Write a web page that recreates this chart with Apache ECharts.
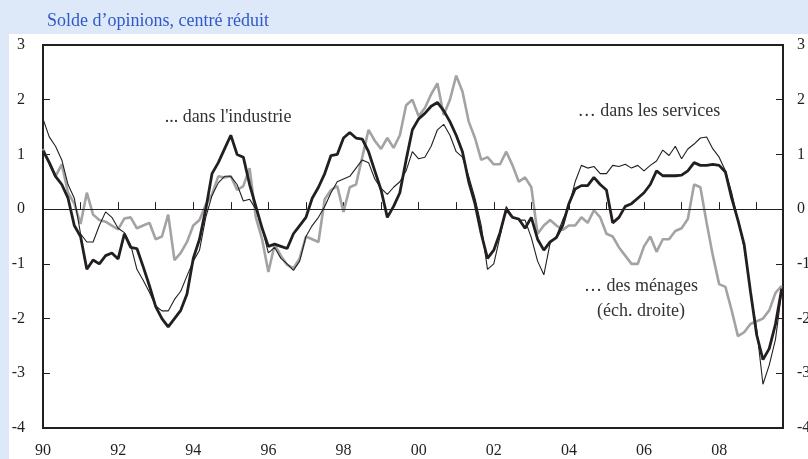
<!DOCTYPE html>
<html>
<head>
<meta charset="utf-8">
<script src="https://cdn.jsdelivr.net/npm/echarts@6/dist/echarts.min.js"></script>
<style>
  html, body { margin: 0; padding: 0; background: #dde9f8; }
  #chart { width: 808px; height: 459px; }
</style>
</head>
<body>
<div id="chart"></div>
<script>
// readings every two months, from Jan 1990 (solde d'opinions, centré réduit)
const firstYear = 1990;
const perYear = 6;

const industrie = [
  1.07, 0.85, 0.6, 0.45, 0.2, -0.3, -0.5, -1.1, -0.93, -1.0, -0.85, -0.8,
  -0.91, -0.45, -0.7, -0.72, -1.05, -1.4, -1.78, -2.0, -2.15, -2.0, -1.85, -1.55,
  -0.9, -0.55, 0.0, 0.65, 0.85, 1.1, 1.35, 1.0, 0.95, 0.45, 0.05, -0.35,
  -0.68, -0.64, -0.68, -0.72, -0.45, -0.3, -0.15, 0.2, 0.4, 0.65, 0.98, 1.0,
  1.3, 1.4, 1.3, 1.28, 1.05, 0.7, 0.35, -0.15, 0.05, 0.3, 0.9, 1.45,
  1.65, 1.75, 1.88, 1.95, 1.8, 1.6, 1.35, 1.05, 0.5, 0.1, -0.45, -0.9,
  -0.75, -0.43, 0.0, -0.15, -0.18, -0.35, -0.15, -0.55, -0.75, -0.6, -0.52, -0.3,
  0.1, 0.37, 0.43, 0.43, 0.58, 0.45, 0.35, -0.25, -0.15, 0.05, 0.1, 0.2,
  0.3, 0.45, 0.7, 0.61, 0.61, 0.61, 0.62, 0.7, 0.85, 0.8, 0.8, 0.82,
  0.8, 0.68, 0.2, -0.2, -0.65, -1.5, -2.3, -2.75, -2.55, -2.1, -1.45
];

const services = [
  1.65, 1.32, 1.15, 0.9, 0.45, 0.2, -0.45, -0.6, -0.6, -0.3, -0.05, -0.15,
  -0.35, -0.43, -0.65, -1.1, -1.3, -1.52, -1.77, -1.86, -1.86, -1.65, -1.5, -1.22,
  -0.95, -0.75, -0.15, 0.25, 0.48, 0.6, 0.6, 0.45, 0.15, 0.18, 0.0, -0.35,
  -0.8, -0.7, -0.9, -1.0, -1.12, -0.95, -0.5, -0.3, -0.15, 0.05, 0.3, 0.5,
  0.55, 0.6, 0.75, 0.9, 0.85, 0.55, 0.38, 0.27, 0.4, 0.5, 0.7, 1.05,
  0.92, 0.95, 1.15, 1.45, 1.55, 1.35, 1.05, 0.95, 0.6, 0.2, -0.3, -1.1,
  -1.0, -0.5, 0.05, -0.15, -0.2, -0.2, -0.52, -0.95, -1.2, -0.62, -0.5, -0.2,
  0.05, 0.5, 0.8, 0.75, 0.78, 0.65, 0.65, 0.8, 0.78, 0.82, 0.75, 0.8,
  0.7, 0.8, 0.88, 1.08, 0.98, 1.15, 0.92, 1.1, 1.19, 1.3, 1.32, 1.1,
  0.95, 0.7, 0.3, -0.2, -0.7, -1.5, -2.2, -3.2, -2.85, -2.38, -1.5
];

// échelle de droite
const menages = [
  1.1, 0.85, 0.6, 0.82, 0.3, 0.1, -0.27, 0.3, -0.1, -0.2, -0.23, -0.3,
  -0.37, -0.17, -0.15, -0.35, -0.3, -0.25, -0.55, -0.5, -0.1, -0.93, -0.8, -0.6,
  -0.3, -0.2, 0.08, 0.27, 0.6, 0.58, 0.6, 0.35, 0.42, 0.75, -0.15, -0.55,
  -1.15, -0.65, -0.85, -1.02, -1.08, -0.9, -0.5, -0.55, -0.6, 0.18, 0.35, 0.42,
  -0.05, 0.4, 0.45, 0.95, 1.45, 1.25, 1.1, 1.3, 1.12, 1.35, 1.9, 2.0,
  1.7, 1.85, 2.1, 2.3, 1.72, 2.0, 2.44, 2.15, 1.6, 1.3, 0.9, 0.95,
  0.82, 0.82, 1.05, 0.8, 0.5, 0.58, 0.4, -0.45, -0.3, -0.2, -0.3, -0.38,
  -0.3, -0.3, -0.15, -0.25, -0.02, -0.15, -0.45, -0.5, -0.7, -0.85, -1.0, -1.0,
  -0.68, -0.5, -0.78, -0.55, -0.55, -0.4, -0.35, -0.18, 0.45, 0.4, -0.25, -0.85,
  -1.37, -1.42, -1.85, -2.32, -2.25, -2.1, -2.05, -2.0, -1.85, -1.53, -1.4
];

const yearLabels = ['90', '', '92', '', '94', '', '96', '', '98', '', '00', '',
  '02', '', '04', '', '06', '', '08', ''];

const ink = '#231f20';
const serif = '"Liberation Serif", "DejaVu Serif", serif';

function dated(values) {
  return values.map((v, i) => [firstYear + i / perYear, v]);
}

function valueAxis(side, margin) {
  return {
    type: 'value',
    position: side,
    min: -4,
    max: 3,
    interval: 1,
    axisLine: { show: false },
    axisTick: { show: true, inside: true, length: 7, lineStyle: { color: ink, width: 1 } },
    axisLabel: { margin: margin, color: ink, fontSize: 16, fontFamily: serif },
    splitLine: { show: false }
  };
}

function label(text, x, y, align) {
  return {
    type: 'text', x: x, y: y,
    style: {
      text: text, font: '18px ' + serif, fill: '#333',
      textAlign: align, align: align, textVerticalAlign: 'middle', verticalAlign: 'middle'
    }
  };
}

const chart = echarts.init(document.getElementById('chart'));
chart.setOption({
  animation: false,
  backgroundColor: '#dde9f8',
  graphic: [
    { type: 'rect', z: -10, shape: { x: 9, y: 34, width: 799, height: 425 }, style: { fill: '#ffffff' } },
    {
      type: 'text', x: 47, y: 21,
      style: { text: 'Solde d\u2019opinions, centré réduit', font: '18px ' + serif, fill: '#3059c8', textVerticalAlign: 'middle', verticalAlign: 'middle' }
    },
    label('... dans l\'industrie', 228, 117, 'center'),
    label('\u2026 dans les services', 649, 111, 'center'),
    label('\u2026 des ménages', 641, 286, 'center'),
    label('(éch. droite)', 641, 311, 'center')
  ],
  grid: {
    left: 43, right: 25, top: 45, bottom: 31,
    outerBoundsMode: 'none', containLabel: false,
    show: true, backgroundColor: '#ffffff', borderColor: ink, borderWidth: 2
  },
  xAxis: {
    type: 'value',
    min: 1990,
    max: 2009.7,
    interval: 1,
    axisLine: { show: false },
    axisTick: { show: true, inside: true, length: 7, lineStyle: { color: ink, width: 1 } },
    axisLabel: {
      margin: 15, color: ink, fontSize: 16, fontFamily: serif,
      formatter: v => (Number.isInteger(v) ? (yearLabels[v - firstYear] || '') : '')
    },
    splitLine: { show: false }
  },
  yAxis: [valueAxis('left', 18), valueAxis('right', 14)],
  series: [
    {
      name: 'ménages', type: 'line', yAxisIndex: 1, data: dated(menages),
      showSymbol: false, lineStyle: { color: '#a3a3a3', width: 2.6 }, z: 2,
      markLine: {
        silent: true, symbol: 'none', label: { show: false },
        lineStyle: { color: ink, width: 1, type: 'solid' },
        data: [{ yAxis: 0 }]
      }
    },
    {
      name: 'services', type: 'line', data: dated(services),
      showSymbol: false, lineStyle: { color: ink, width: 1.1 }, z: 3
    },
    {
      name: 'industrie', type: 'line', data: dated(industrie),
      showSymbol: false, lineStyle: { color: ink, width: 2.8 }, z: 4
    }
  ]
});
</script>
</body>
</html>
